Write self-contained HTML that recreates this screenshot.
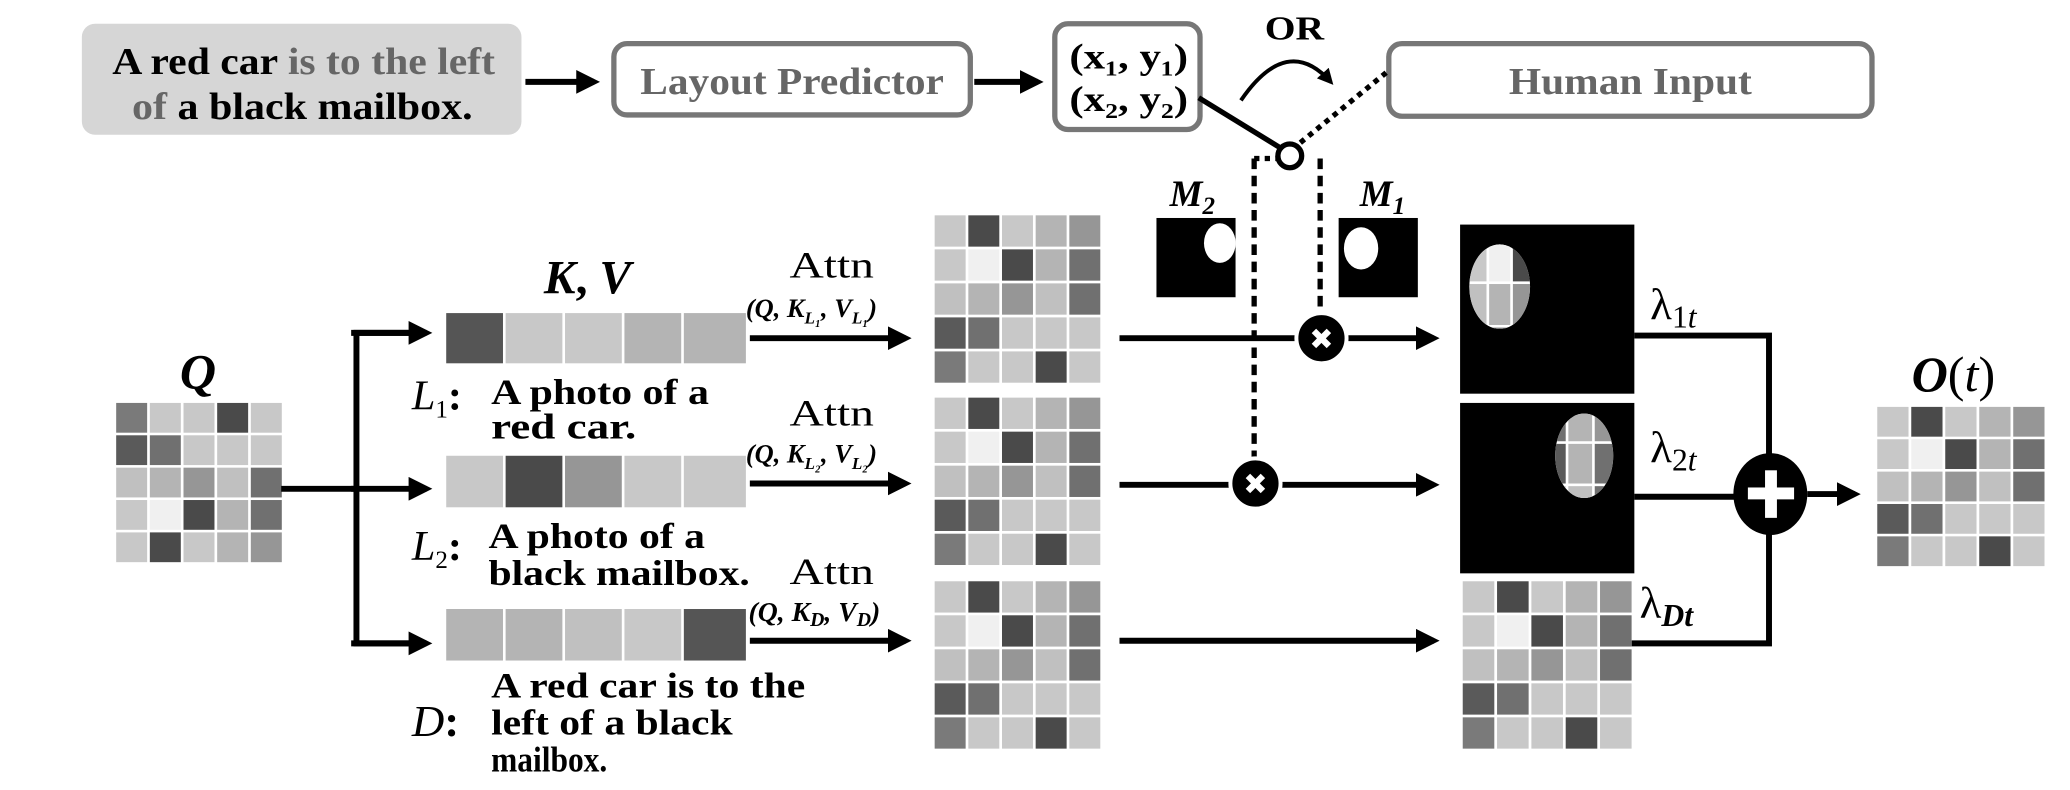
<!DOCTYPE html>
<html><head><meta charset="utf-8"><style>
html,body{margin:0;padding:0;background:#fff;}
svg{display:block;}
</style></head><body>
<svg width="2070" height="790" viewBox="0 0 1568 598" preserveAspectRatio="none" xmlns="http://www.w3.org/2000/svg">
<defs>
<marker id="ah" markerWidth="4" markerHeight="4" refX="3" refY="2" orient="auto" markerUnits="strokeWidth"><path d="M0,0 L4,2 L0,4z" fill="#000"/></marker>
<g id="mat">
<rect x="0" y="0" width="23" height="23" fill="#c8c8c8"/><rect x="25" y="0" width="23" height="23" fill="#4a4a4a"/><rect x="50" y="0" width="23" height="23" fill="#c8c8c8"/><rect x="75" y="0" width="23" height="23" fill="#b4b4b4"/><rect x="100" y="0" width="23" height="23" fill="#969696"/>
<rect x="0" y="25" width="23" height="23" fill="#c8c8c8"/><rect x="25" y="25" width="23" height="23" fill="#f0f0f0"/><rect x="50" y="25" width="23" height="23" fill="#4a4a4a"/><rect x="75" y="25" width="23" height="23" fill="#b4b4b4"/><rect x="100" y="25" width="23" height="23" fill="#707070"/>
<rect x="0" y="50" width="23" height="23" fill="#c0c0c0"/><rect x="25" y="50" width="23" height="23" fill="#b4b4b4"/><rect x="50" y="50" width="23" height="23" fill="#969696"/><rect x="75" y="50" width="23" height="23" fill="#c0c0c0"/><rect x="100" y="50" width="23" height="23" fill="#707070"/>
<rect x="0" y="75" width="23" height="23" fill="#5a5a5a"/><rect x="25" y="75" width="23" height="23" fill="#707070"/><rect x="50" y="75" width="23" height="23" fill="#c8c8c8"/><rect x="75" y="75" width="23" height="23" fill="#c8c8c8"/><rect x="100" y="75" width="23" height="23" fill="#c8c8c8"/>
<rect x="0" y="100" width="23" height="23" fill="#7a7a7a"/><rect x="25" y="100" width="23" height="23" fill="#c8c8c8"/><rect x="50" y="100" width="23" height="23" fill="#c8c8c8"/><rect x="75" y="100" width="23" height="23" fill="#4a4a4a"/><rect x="100" y="100" width="23" height="23" fill="#c8c8c8"/>
</g>
</defs>

<g font-family="Liberation Serif, serif" font-weight="bold">
<!-- top row -->
<rect x="62" y="18" width="333" height="84" rx="10" fill="#d6d6d6"/>
<text x="85" y="56" font-size="29" fill="#000" textLength="290" lengthAdjust="spacingAndGlyphs">A red car <tspan fill="#666">is to the left</tspan></text>
<text x="100" y="90" font-size="29" fill="#666" textLength="258" lengthAdjust="spacingAndGlyphs">of <tspan fill="#000">a black mailbox.</tspan></text>
<line x1="398" y1="62" x2="450" y2="62" stroke="#000" stroke-width="4.5" marker-end="url(#ah)"/>
<rect x="465" y="33" width="270" height="54" rx="10" fill="#fff" stroke="#777" stroke-width="4"/>
<text x="485" y="71" font-size="29" fill="#666" textLength="230" lengthAdjust="spacingAndGlyphs">Layout Predictor</text>
<line x1="738" y1="62" x2="786" y2="62" stroke="#000" stroke-width="4.5" marker-end="url(#ah)"/>
<rect x="799" y="18" width="110" height="80" rx="10" fill="#fff" stroke="#777" stroke-width="4"/>
<text x="810" y="52" font-size="27" textLength="90" lengthAdjust="spacingAndGlyphs">(x₁, y₁)</text>
<text x="810" y="84" font-size="27" textLength="90" lengthAdjust="spacingAndGlyphs">(x₂, y₂)</text>
<text x="958" y="30" font-size="26" textLength="45" lengthAdjust="spacingAndGlyphs">OR</text>
<path d="M940,76 Q975,25 1008,62" fill="none" stroke="#000" stroke-width="3" marker-end="url(#ah)"/>
<rect x="1052" y="33" width="366" height="55" rx="10" fill="#fff" stroke="#777" stroke-width="4"/>
<text x="1143" y="71" font-size="29" fill="#666" textLength="184" lengthAdjust="spacingAndGlyphs">Human Input</text>
</g>
<line x1="908" y1="74" x2="970" y2="112" stroke="#000" stroke-width="4"/>
<line x1="985" y1="108" x2="1050" y2="55" stroke="#000" stroke-width="4" stroke-dasharray="4,4"/>
<circle cx="977" cy="118" r="9" fill="none" stroke="#000" stroke-width="4"/>
<line x1="950" y1="120" x2="970" y2="120" stroke="#000" stroke-width="4" stroke-dasharray="4,4"/>
<line x1="950" y1="120" x2="950" y2="348" stroke="#000" stroke-width="4" stroke-dasharray="8,5"/>
<line x1="1000" y1="120" x2="1000" y2="236" stroke="#000" stroke-width="4" stroke-dasharray="8,5"/>

<!-- masks -->
<g font-family="Liberation Serif, serif" font-weight="bold" font-style="italic">
<text x="886" y="156" font-size="28">M<tspan font-size="19" dy="6">2</tspan></text>
<text x="1030" y="156" font-size="28">M<tspan font-size="19" dy="6">1</tspan></text>
</g>
<rect x="876" y="165" width="60" height="60" fill="#000"/>
<ellipse cx="924" cy="184" rx="12" ry="15" fill="#fff"/>
<rect x="936" y="165" width="2" height="60" fill="#fff"/>
<rect x="1014" y="165" width="60" height="60" fill="#000"/>
<ellipse cx="1031" cy="188" rx="13" ry="16" fill="#fff"/>

<!-- Q -->
<text x="150" y="294" text-anchor="middle" font-family="Liberation Serif, serif" font-weight="bold" font-style="italic" font-size="38">Q</text>
<g transform="translate(88,305) scale(1.02,0.98) translate(0,123) scale(1,-1)"><use href="#mat"/></g>
<line x1="213" y1="370" x2="270" y2="370" stroke="#000" stroke-width="4.5"/>
<polyline points="320,252 270,252 270,487 320,487" fill="none" stroke="#000" stroke-width="4.5"/>
<line x1="266" y1="252" x2="323" y2="252" stroke="#000" stroke-width="4.5" marker-end="url(#ah)"/>
<line x1="266" y1="370" x2="323" y2="370" stroke="#000" stroke-width="4.5" marker-end="url(#ah)"/>
<line x1="266" y1="487" x2="323" y2="487" stroke="#000" stroke-width="4.5" marker-end="url(#ah)"/>

<!-- KV bars -->
<text x="412" y="222" font-family="Liberation Serif, serif" font-weight="bold" font-style="italic" font-size="36">K<tspan font-style="normal">, </tspan>V</text>
<g>
<rect x="338" y="237" width="43" height="38" fill="#555"/><rect x="383" y="237" width="43" height="38" fill="#c8c8c8"/><rect x="428" y="237" width="43" height="38" fill="#c8c8c8"/><rect x="473" y="237" width="43" height="38" fill="#b4b4b4"/><rect x="518" y="237" width="47" height="38" fill="#b4b4b4"/>
<rect x="338" y="345" width="43" height="39" fill="#c8c8c8"/><rect x="383" y="345" width="43" height="39" fill="#4a4a4a"/><rect x="428" y="345" width="43" height="39" fill="#969696"/><rect x="473" y="345" width="43" height="39" fill="#c8c8c8"/><rect x="518" y="345" width="47" height="39" fill="#c8c8c8"/>
<rect x="338" y="461" width="43" height="39" fill="#b4b4b4"/><rect x="383" y="461" width="43" height="39" fill="#b4b4b4"/><rect x="428" y="461" width="43" height="39" fill="#c0c0c0"/><rect x="473" y="461" width="43" height="39" fill="#c8c8c8"/><rect x="518" y="461" width="47" height="39" fill="#555"/>
</g>
<g font-family="Liberation Serif, serif" font-weight="bold">
<text x="312" y="310" font-size="32" font-style="italic" font-weight="normal">L<tspan font-size="19" font-style="normal" dy="6">1</tspan><tspan dy="-6" font-style="normal" font-weight="bold">:</tspan></text>
<text x="372" y="306" font-size="27" textLength="165" lengthAdjust="spacingAndGlyphs">A photo of a</text>
<text x="372" y="332" font-size="27" textLength="110" lengthAdjust="spacingAndGlyphs">red car.</text>
<text x="312" y="424" font-size="32" font-style="italic" font-weight="normal">L<tspan font-size="19" font-style="normal" dy="6">2</tspan><tspan dy="-6" font-style="normal" font-weight="bold">:</tspan></text>
<text x="370" y="415" font-size="27" textLength="164" lengthAdjust="spacingAndGlyphs">A photo of a</text>
<text x="370" y="443" font-size="27" textLength="198" lengthAdjust="spacingAndGlyphs">black mailbox.</text>
<text x="312" y="557" font-size="34" font-style="italic" font-weight="normal">D<tspan font-style="normal" font-weight="bold">:</tspan></text>
<text x="372" y="528" font-size="27" textLength="238" lengthAdjust="spacingAndGlyphs">A red car is to the</text>
<text x="372" y="556" font-size="27" textLength="183" lengthAdjust="spacingAndGlyphs">left of a black</text>
<text x="372" y="584" font-size="27" textLength="88" lengthAdjust="spacingAndGlyphs">mailbox.</text>
</g>

<!-- Attn -->
<g font-family="Liberation Serif, serif">
<text x="598" y="210" font-size="28" textLength="64" lengthAdjust="spacingAndGlyphs">Attn</text>
<text x="565" y="240" font-size="20" font-style="italic" font-weight="bold">(Q, K<tspan font-size="13" dy="5">L₁</tspan><tspan dy="-5">, V</tspan><tspan font-size="13" dy="5">L₁</tspan><tspan dy="-5">)</tspan></text>
<text x="598" y="322" font-size="28" textLength="64" lengthAdjust="spacingAndGlyphs">Attn</text>
<text x="565" y="350" font-size="20" font-style="italic" font-weight="bold">(Q, K<tspan font-size="13" dy="5">L₂</tspan><tspan dy="-5">, V</tspan><tspan font-size="13" dy="5">L₂</tspan><tspan dy="-5">)</tspan></text>
<text x="598" y="442" font-size="28" textLength="64" lengthAdjust="spacingAndGlyphs">Attn</text>
<text x="567" y="470" font-size="21" font-style="italic" font-weight="bold">(Q, K<tspan font-size="15" dy="4">D</tspan><tspan dy="-4">, V</tspan><tspan font-size="15" dy="4">D</tspan><tspan dy="-4">)</tspan></text>
</g>
<line x1="568" y1="256" x2="686" y2="256" stroke="#000" stroke-width="4.5" marker-end="url(#ah)"/>
<line x1="568" y1="366" x2="686" y2="366" stroke="#000" stroke-width="4.5" marker-end="url(#ah)"/>
<line x1="568" y1="485" x2="686" y2="485" stroke="#000" stroke-width="4.5" marker-end="url(#ah)"/>

<!-- mid matrices -->
<g transform="translate(708,163) scale(1.02,1.03)"><use href="#mat"/></g>
<g transform="translate(708,301) scale(1.02,1.03)"><use href="#mat"/></g>
<g transform="translate(708,440) scale(1.02,1.03)"><use href="#mat"/></g>

<!-- right flows -->
<line x1="848" y1="256" x2="1086" y2="256" stroke="#000" stroke-width="4.5" marker-end="url(#ah)"/>
<line x1="848" y1="367" x2="1086" y2="367" stroke="#000" stroke-width="4.5" marker-end="url(#ah)"/>
<line x1="848" y1="485" x2="1086" y2="485" stroke="#000" stroke-width="4.5" marker-end="url(#ah)"/>
<circle cx="1001" cy="256" r="19" fill="#000" stroke="#fff" stroke-width="3"/>
<text x="1001" y="264" text-anchor="middle" font-family="DejaVu Sans,sans-serif" font-weight="bold" font-size="22" fill="#fff">✖</text>
<circle cx="951" cy="366" r="19" fill="#000" stroke="#fff" stroke-width="3"/>
<text x="951" y="374" text-anchor="middle" font-family="DejaVu Sans,sans-serif" font-weight="bold" font-size="22" fill="#fff">✖</text>

<!-- big boxes -->
<rect x="1106" y="170" width="132" height="128" fill="#000"/>
<clipPath id="c1"><ellipse cx="1136" cy="217" rx="23" ry="32"/></clipPath>
<g clip-path="url(#c1)"><rect x="1100" y="180" width="80" height="80" fill="#fff"/>
<rect x="1110" y="184" width="16" height="29" fill="#c8c8c8"/><rect x="1128" y="184" width="16" height="29" fill="#f0f0f0"/><rect x="1146" y="184" width="16" height="29" fill="#4a4a4a"/>
<rect x="1110" y="215" width="16" height="31" fill="#c0c0c0"/><rect x="1128" y="215" width="16" height="31" fill="#b4b4b4"/><rect x="1146" y="215" width="16" height="31" fill="#969696"/>
<rect x="1110" y="248" width="16" height="16" fill="#c8c8c8"/><rect x="1128" y="248" width="16" height="16" fill="#707070"/><rect x="1146" y="248" width="16" height="16" fill="#c8c8c8"/></g>
<rect x="1106" y="305" width="132" height="129" fill="#000"/>
<clipPath id="c2"><ellipse cx="1200" cy="345" rx="22" ry="32"/></clipPath>
<g clip-path="url(#c2)"><rect x="1170" y="305" width="80" height="80" fill="#fff"/>
<rect x="1170" y="310" width="16" height="24" fill="#707070"/><rect x="1188" y="310" width="18" height="24" fill="#b4b4b4"/><rect x="1208" y="310" width="20" height="24" fill="#969696"/>
<rect x="1170" y="336" width="16" height="30" fill="#5a5a5a"/><rect x="1188" y="336" width="18" height="30" fill="#b4b4b4"/><rect x="1208" y="336" width="20" height="30" fill="#707070"/>
<rect x="1170" y="368" width="16" height="20" fill="#c8c8c8"/><rect x="1188" y="368" width="18" height="20" fill="#c0c0c0"/><rect x="1208" y="368" width="20" height="20" fill="#707070"/></g>
<g transform="translate(1108,440) scale(1.04,1.03)"><use href="#mat"/></g>

<!-- lambdas -->
<g font-family="Liberation Serif, serif">
<text x="1250" y="242" font-size="34">λ<tspan font-size="24" dy="6">1<tspan font-style="italic">t</tspan></tspan></text>
<text x="1250" y="350" font-size="34">λ<tspan font-size="24" dy="6">2<tspan font-style="italic">t</tspan></tspan></text>
<text x="1242" y="468" font-size="34">λ<tspan font-size="24" dy="6" font-style="italic" font-weight="bold">Dt</tspan></text>
</g>
<polyline points="1238,254 1340,254 1340,350" fill="none" stroke="#000" stroke-width="4.5"/>
<line x1="1238" y1="376" x2="1320" y2="376" stroke="#000" stroke-width="4.5"/>
<polyline points="1236,487 1340,487 1340,400" fill="none" stroke="#000" stroke-width="4.5"/>
<ellipse cx="1341" cy="374" rx="28" ry="31" fill="#000"/>
<rect x="1337" y="356" width="9" height="36" fill="#fff"/><rect x="1324" y="369" width="35" height="9" fill="#fff"/>
<line x1="1369" y1="374" x2="1405" y2="374" stroke="#000" stroke-width="4.5" marker-end="url(#ah)"/>

<!-- O(t) -->
<text x="1448" y="296" font-family="Liberation Serif, serif" font-size="38"><tspan font-weight="bold" font-style="italic">O</tspan>(<tspan font-style="italic">t</tspan>)</text>
<g transform="translate(1422,308) scale(1.03,0.98)"><use href="#mat"/></g>
</svg>
</body></html>
